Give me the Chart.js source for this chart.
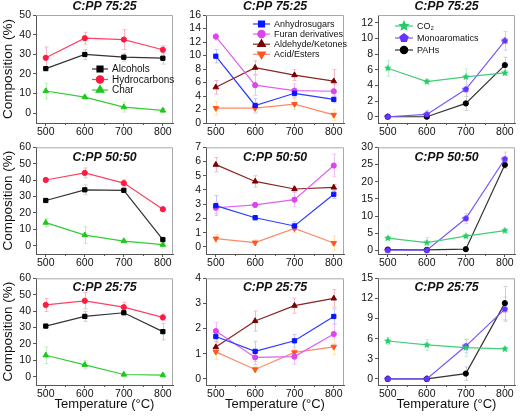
<!DOCTYPE html>
<html>
<head>
<meta charset="utf-8">
<script src="https://cdn.jsdelivr.net/npm/chart.js@4.4.1/dist/chart.umd.min.js"></script>
<style>
  body { margin: 0; background: #fff; }
  #wrap { position: relative; width: 520px; height: 418px; overflow: hidden; background: #fff; }
  #wrap canvas { position: absolute; }
</style>
</head>
<body>
<div id="wrap"></div>
<script>
const temps = [500, 600, 700, 800];
const ratios = ["C:PP 75:25", "C:PP 50:50", "C:PP 25:75"];

// one row per ratio (75:25, 50:50, 25:75), one value per temperature
const alcohols     = [[22.7, 29.9, 28.5, 28.0], [27.6, 34.1, 33.8, 3.8], [30.9, 36.8, 39.0, 27.5]];
const hydrocarbons = [[28.2, 38.2, 37.5, 32.3], [40.1, 44.4, 38.2, 22.3], [43.8, 46.3, 42.4, 36.2]];
const charYield    = [[11.3, 8.2, 3.1, 1.4], [14.1, 6.5, 2.9, 0.7], [13.1, 7.3, 1.4, 1.0]];

const anhydrosugars = [[9.9, 2.6, 4.4, 3.5], [2.9, 2.05, 1.47, 3.7], [1.68, 1.09, 1.51, 2.48]];
const furans        = [[12.8, 5.6, 4.8, 4.7], [2.75, 2.95, 3.32, 5.72], [1.9, 0.85, 0.88, 1.78]];
const aldehydes     = [[5.3, 8.2, 7.1, 6.2], [5.78, 4.6, 4.07, 4.18], [1.26, 2.3, 2.91, 3.2]];
const acids         = [[2.2, 2.2, 2.8, 1.2], [0.58, 0.3, 1.3, 0.27], [1.07, 0.37, 1.05, 1.27]];

const co2           = [[6.2, 4.5, 5.1, 5.6], [3.6, 2.3, 4.2, 5.8], [5.66, 5.07, 4.67, 4.48]];
const monoaromatics = [[0, 0.3, 3.5, 9.7], [0.1, 0.1, 9.3, 26.6], [0, 0, 4.9, 10.4]];
const pahs          = [[0, 0, 1.7, 6.6], [0.3, 0.2, 0.4, 24.9], [0, 0, 0.8, 11.3]];

// error bars (+/-)
const alcoholsErr     = [[1, 2.5, 2, 3], [1, 3, 1, 1], [1, 3, 1, 5]];
const hydrocarbonsErr = [[5.5, 3, 5, 2], [1, 3, 2, 1], [4, 5, 3, 2]];
const charErr         = [[4, 1, 2.5, 1], [2.5, 5, 1, 1], [5, 2.5, 1, 1]];
const anhydroErr      = [[1, 1, 0.5, 0.5], [0.7, 0.15, 0.3, 0.3], [0.2, 0.4, 0.25, 0.3]];
const furansErr       = [[0.5, 1.5, 1, 1], [0.4, 0.15, 0.5, 0.8], [0.35, 0.3, 0.3, 0.4]];
const aldehydesErr    = [[1, 1, 0.8, 1.7], [0.5, 0.4, 0.2, 0.2], [0.2, 0.4, 0.3, 0.35]];
const acidsErr        = [[1, 0.8, 0.8, 0.8], [0.3, 0.2, 0.3, 0.5], [0.3, 0.1, 0.2, 0.3]];
const co2Err          = [[1, 0.3, 1, 0.3], [0.5, 1.5, 0.5, 0.5], [0.5, 0.8, 1.3, 0.3]];
const monoErr         = [[0, 0.5, 1.5, 1.2], [0, 0, 1.5, 2], [0, 0, 1, 1.8]];
const pahsErr         = [[0, 0, 0.9, 1], [0, 0, 0, 1], [0, 0, 1, 2.5]];

const xTicks = [500, 600, 700, 800];
const yTicksLeft  = [[0, 10, 20, 30, 40, 50], [0, 10, 20, 30, 40, 50, 60], [0, 10, 20, 30, 40, 50, 60]];
const yTicksMid   = [[0, 2, 4, 6, 8, 10, 12, 14, 16], [0, 1, 2, 3, 4, 5, 6, 7], [0, 1, 2, 3, 4]];
const yTicksRight = [[0, 2, 4, 6, 8, 10, 12], [0, 5, 10, 15, 20, 25, 30], [0, 3, 6, 9, 12, 15]];

const FONT = '"Liberation Sans", Arial, sans-serif';

function shape(kind, size, color) {
  const c = document.createElement('canvas');
  c.width = c.height = size;
  const g = c.getContext('2d');
  const r = size / 2, n = kind === 'star' ? 10 : 5;
  g.fillStyle = color;
  g.beginPath();
  for (let i = 0; i < n; i++) {
    const rad = kind === 'star' && i % 2 ? r * 0.45 : r;
    const ang = -Math.PI / 2 + i * 2 * Math.PI / n;
    g.lineTo(r + rad * Math.cos(ang), r + rad * Math.sin(ang));
  }
  g.closePath();
  g.fill();
  return c;
}

const styles = {
  Alcohols:            { color: '#000000', line: '#333333', err: '#cfcfcf', point: 'rect', r: 3 },
  Hydrocarbons:        { color: '#ff1a40', line: '#ff4060', err: '#f8b8c8', point: 'circle', r: 2.6 },
  Char:                { color: '#1ec81e', line: '#33cc33', err: '#c0f0b8', point: 'triangle', r: 3.2 },
  Anhydrosugars:       { color: '#0a14ff', line: '#2a3aff', err: '#c0c8ff', point: 'rect', r: 3 },
  'Furan derivatives': { color: '#dd44ee', line: '#e060f2', err: '#f2c0f8', point: 'circle', r: 2.6 },
  'Aldehyde/Ketones':  { color: '#7a0000', line: '#8b2222', err: '#f2b8c8', point: 'triangle', r: 3.2 },
  'Acid/Esters':       { color: '#ff5522', line: '#ff8866', err: '#fde6a8', point: 'triangle', r: 3.2, rot: 180 },
  'CO₂':               { color: '#22cc66', line: '#44cc77', err: '#c0f0d0', point: shape('star', 8, '#22cc66'), big: shape('star', 12, '#22cc66') },
  Monoaromatics:       { color: '#6633ff', line: '#7755ff', err: '#e0c8f8', point: shape('pent', 7, '#6633ff'), big: shape('pent', 10, '#6633ff') },
  PAHs:                { color: '#000000', line: '#333333', err: '#cfcfcf', point: 'circle', r: 2.6 }
};

const columns = [
  { names: ['Alcohols', 'Hydrocarbons', 'Char'], vals: [alcohols, hydrocarbons, charYield],
    errs: [alcoholsErr, hydrocarbonsErr, charErr], ticks: yTicksLeft, ranges: [[-5, 50], [-5, 60], [-5, 60]],
    left: 36, right: 176, yW: 36, legend: { x: 56, y: 54, dy: 10.5, len: 16, size: 10 } },
  { names: ['Anhydrosugars', 'Furan derivatives', 'Aldehyde/Ketones', 'Acid/Esters'], vals: [anhydrosugars, furans, aldehydes, acids],
    errs: [anhydroErr, furansErr, aldehydesErr, acidsErr], ticks: yTicksMid, ranges: [[0, 16], [-0.5, 7], [-0.25, 4]],
    left: 206, right: 347, yW: 30, legend: { x: 47, y: 9, dy: 10.1, len: 17, size: 9 } },
  { names: ['CO₂', 'Monoaromatics', 'PAHs'], vals: [co2, monoaromatics, pahs],
    errs: [co2Err, monoErr, pahsErr], ticks: yTicksRight, ranges: [[-0.8, 13], [-1, 30], [-0.9, 15]],
    left: 378, right: 518, yW: 30, legend: { x: 17, y: 11, dy: 12, len: 18, size: 9 } }
];
const rows = [
  { top: 15, bottom: 123, tp: 15, xH: 16, titleDy: -8 },
  { top: 147, bottom: 254, tp: 8, xH: 16, titleDy: 10.5 },
  { top: 278, bottom: 385, tp: 8, xH: 33, titleDy: 9 }
];

function marker(ctx, st, x, y, scale) {
  if (typeof st.point !== 'string') {
    const img = st.big;
    ctx.drawImage(img, x - img.width / 2, y - img.height / 2);
    return;
  }
  ctx.fillStyle = st.color;
  ctx.strokeStyle = st.color;
  Chart.helpers.drawPoint(ctx, { pointStyle: st.point, radius: st.r * scale, rotation: st.rot || 0, borderWidth: 1 }, x, y);
}

const deco = {
  id: 'deco',
  beforeDatasetsDraw(chart) {
    const { ctx, scales: { x, y } } = chart;
    ctx.save();
    ctx.lineWidth = 1;
    chart.data.datasets.forEach(ds => {
      ctx.strokeStyle = ds.errColor;
      ds.data.forEach((p, i) => {
        const e = ds.err[i];
        if (!e) return;
        const px = Math.round(x.getPixelForValue(p.x)) + 0.5;
        const y1 = y.getPixelForValue(p.y + e), y2 = y.getPixelForValue(p.y - e);
        ctx.beginPath();
        ctx.moveTo(px, y1); ctx.lineTo(px, y2);
        ctx.moveTo(px - 2, y1); ctx.lineTo(px + 2, y1);
        ctx.moveTo(px - 2, y2); ctx.lineTo(px + 2, y2);
        ctx.stroke();
      });
    });
    ctx.restore();
  },
  afterDraw(chart, args, o) {
    const { ctx, chartArea: a, scales: { x } } = chart;
    ctx.save();
    ctx.strokeStyle = '#a8a8a8';
    ctx.lineWidth = 1;
    ctx.beginPath();
    ctx.moveTo(a.left, a.top + 0.5);
    ctx.lineTo(a.right - 0.5, a.top + 0.5);
    ctx.lineTo(a.right - 0.5, a.bottom);
    ctx.stroke();

    // minor ticks halfway between the temperature ticks
    ctx.strokeStyle = '#555';
    ctx.beginPath();
    for (let i = 0; i < xTicks.length - 1; i++) {
      const px = Math.round(x.getPixelForValue((xTicks[i] + xTicks[i + 1]) / 2)) + 0.5;
      ctx.moveTo(px, a.bottom); ctx.lineTo(px, a.bottom + 2);
    }
    ctx.stroke();

    ctx.fillStyle = '#111';
    ctx.textAlign = 'center';
    ctx.textBaseline = 'middle';
    ctx.font = 'italic bold 12.3px ' + FONT;
    ctx.fillText(o.title, (a.left + a.right) / 2, a.top + o.titleDy);

    if (o.legend) {
      const L = o.legend;
      ctx.font = L.size + 'px ' + FONT;
      chart.data.datasets.forEach((ds, i) => {
        const st = styles[ds.label];
        const yy = a.top + L.y + i * L.dy;
        const x0 = a.left + L.x;
        ctx.strokeStyle = st.line;
        ctx.lineWidth = 1.2;
        ctx.beginPath();
        ctx.moveTo(x0, yy); ctx.lineTo(x0 + L.len, yy);
        ctx.stroke();
        marker(ctx, st, x0 + L.len / 2, yy, 1.4);
        ctx.fillStyle = '#111';
        ctx.textAlign = 'left';
        ctx.fillText(ds.label, x0 + L.len + 4, yy + 0.5);
      });
    }
    ctx.textAlign = 'center';
    ctx.fillStyle = '#111';
    if (o.yTitle) {
      ctx.font = '13.5px ' + FONT;
      ctx.translate(8, (a.top + a.bottom) / 2);
      ctx.rotate(-Math.PI / 2);
      ctx.fillText(o.yTitle, 0, 0);
      ctx.setTransform(1, 0, 0, 1, 0, 0);
    }
    if (o.xTitle) {
      ctx.font = '13px ' + FONT;
      ctx.fillText(o.xTitle, (a.left + a.right) / 2, a.bottom + 19);
    }
    ctx.restore();
  }
};

const wrap = document.getElementById('wrap');

rows.forEach((row, r) => {
  columns.forEach((col, c) => {
    const cv = document.createElement('canvas');
    const w = col.yW + (col.right - col.left) + 2;
    const h = row.tp + (row.bottom - row.top) + row.xH;
    cv.width = w; cv.height = h;
    cv.style.left = (col.left - col.yW) + 'px';
    cv.style.top = (row.top - row.tp) + 'px';
    wrap.appendChild(cv);

    const datasets = col.names.map((name, k) => {
      const st = styles[name];
      return {
        label: name,
        data: temps.map((t, i) => ({ x: t, y: col.vals[k][r][i] })),
        err: col.errs[k][r],
        errColor: st.err,
        borderColor: st.line,
        backgroundColor: st.color,
        pointBackgroundColor: st.color,
        pointBorderColor: st.color,
        pointStyle: st.point,
        pointRadius: st.r || 4,
        pointRotation: st.rot || 0,
        pointBorderWidth: 1,
        borderWidth: 1.2,
        tension: 0
      };
    });

    const tickFont = { family: FONT, size: 10.5 };
    new Chart(cv, {
      type: 'line',
      data: { datasets },
      options: {
        responsive: false,
        animation: false,
        devicePixelRatio: 1,
        layout: { padding: { top: row.tp, right: 2, left: 0, bottom: 0 } },
        plugins: {
          legend: { display: false },
          tooltip: { enabled: false },
          deco: {
            title: ratios[r],
            titleDy: row.titleDy,
            legend: r === 0 ? col.legend : null,
            yTitle: c === 0 ? 'Composition (%)' : null,
            xTitle: r === 2 ? 'Temperature (°C)' : null
          }
        },
        scales: {
          x: {
            type: 'linear', min: 475, max: 826,
            afterFit: s => { s.height = row.xH; },
            afterBuildTicks: s => { s.ticks = xTicks.map(v => ({ value: v })); },
            grid: { drawOnChartArea: false, tickLength: 3, color: '#555' },
            border: { color: '#555' },
            ticks: { padding: 0, font: tickFont, color: '#111', maxRotation: 0, autoSkip: false }
          },
          y: {
            min: col.ranges[r][0], max: col.ranges[r][1],
            afterFit: s => { s.width = col.yW; },
            afterBuildTicks: s => { s.ticks = col.ticks[r].map(v => ({ value: v })); },
            grid: { drawOnChartArea: false, tickLength: 3, color: '#555' },
            border: { color: '#555' },
            ticks: { padding: 2, font: tickFont, color: '#111', autoSkip: false }
          }
        }
      },
      plugins: [deco]
    });
  });
});
</script>
</body>
</html>
